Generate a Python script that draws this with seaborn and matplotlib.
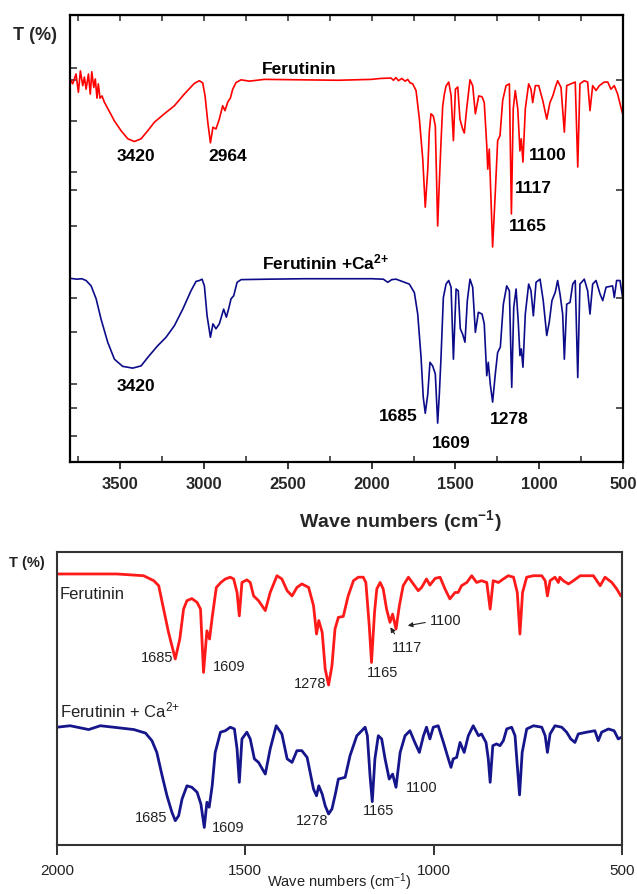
import matplotlib
matplotlib.use("Agg")
import seaborn as sns
import matplotlib.pyplot as plt

# 上段: 全領域 (3800-500 cm-1) の IR スペクトル  (波数, 透過率)
red_full = [
    (3800, 85.7), (3784, 84.6), (3764, 86.8), (3750, 82.7), (3738, 87.5), (3724, 84.2),
    (3714, 86.1), (3704, 83.4), (3690, 86.8), (3679, 82.3), (3670, 87.3), (3658, 83.8),
    (3649, 85.7), (3639, 81.4), (3631, 84.6), (3621, 81.4), (3609, 81.9), (3595, 80.5),
    (3579, 79.4), (3535, 76.3), (3495, 74.1), (3455, 72.3), (3416, 71.7), (3376, 72.3),
    (3336, 74.1), (3297, 76.0), (3237, 77.9), (3177, 79.7), (3118, 82.3), (3058, 84.7),
    (3028, 85.3), (3008, 84.8), (2994, 81.9), (2978, 76.1), (2962, 71.4), (2947, 74.9),
    (2929, 74.5), (2909, 76.7), (2889, 79.7), (2875, 78.6), (2859, 80.5), (2843, 81.4),
    (2829, 83.4), (2809, 84.9), (2779, 85.5), (2730, 85.2), (2640, 85.6), (2400, 85.5),
    (2200, 85.4), (2000, 85.6), (1950, 85.8), (1884, 85.9), (1870, 85.4), (1855, 86.0),
    (1840, 85.3), (1820, 85.8), (1800, 85.2), (1785, 85.6), (1770, 84.8), (1755, 84.6),
    (1735, 83.1), (1715, 76.7), (1695, 67.8), (1680, 57.0), (1665, 65.5), (1656, 73.8),
    (1646, 77.9), (1632, 77.4), (1620, 75.2), (1606, 52.8), (1596, 62.6), (1586, 71.6),
    (1576, 79.6), (1566, 82.3), (1556, 84.1), (1540, 85.0), (1526, 82.0), (1512, 71.9),
    (1500, 83.4), (1486, 83.9), (1473, 76.7), (1457, 74.5), (1447, 73.6), (1433, 79.0),
    (1413, 85.5), (1397, 84.2), (1381, 77.9), (1361, 81.9), (1341, 81.7), (1328, 80.4),
    (1313, 70.8), (1307, 65.5), (1298, 70.0), (1278, 48.1), (1262, 60.4), (1248, 71.9),
    (1234, 73.0), (1218, 80.9), (1198, 84.2), (1178, 84.6), (1166, 55.5), (1155, 79.0),
    (1143, 83.1), (1128, 79.0), (1115, 69.6), (1107, 72.3), (1097, 67.1), (1083, 79.0),
    (1063, 84.6), (1049, 83.4), (1039, 80.4), (1023, 84.2), (1003, 84.2), (979, 80.9),
    (955, 76.7), (936, 80.4), (919, 81.9), (904, 83.8), (890, 85.3), (870, 83.8),
    (850, 73.8), (836, 84.2), (810, 84.6), (785, 85.0), (770, 66.0), (757, 84.6),
    (731, 85.3), (711, 85.0), (697, 78.6), (681, 84.2), (661, 83.1), (641, 84.2),
    (612, 85.0), (591, 85.0), (572, 83.4), (552, 84.2), (532, 82.3), (503, 78.0),
]
blue_full = [
    (3800, 41.1), (3760, 40.9), (3730, 41.0), (3704, 40.6), (3674, 39.4), (3644, 36.5),
    (3615, 32.0), (3575, 26.8), (3535, 23.0), (3486, 21.4), (3426, 21.0), (3376, 21.5),
    (3327, 23.8), (3277, 26.0), (3227, 27.9), (3177, 30.5), (3127, 34.2), (3078, 38.3),
    (3048, 40.4), (3028, 40.6), (3012, 40.9), (2998, 39.4), (2982, 32.7), (2962, 27.9),
    (2947, 30.9), (2929, 29.8), (2909, 30.9), (2883, 34.2), (2867, 32.4), (2851, 34.6),
    (2839, 36.5), (2823, 37.2), (2803, 40.2), (2779, 40.8), (2620, 40.9), (2400, 41.0),
    (2200, 41.0), (2000, 41.0), (1930, 40.9), (1904, 40.2), (1880, 40.8), (1854, 40.9),
    (1775, 39.8), (1745, 37.9), (1725, 33.1), (1705, 23.4), (1692, 14.5), (1680, 10.9),
    (1665, 15.2), (1652, 22.3), (1636, 21.5), (1620, 19.7), (1606, 8.7), (1596, 15.2),
    (1586, 23.4), (1572, 36.8), (1556, 39.8), (1540, 40.6), (1526, 39.1), (1512, 23.0),
    (1496, 38.7), (1483, 38.3), (1471, 29.8), (1457, 28.6), (1443, 26.8), (1429, 36.1),
    (1413, 40.9), (1397, 39.1), (1381, 29.0), (1363, 33.5), (1341, 33.1), (1328, 30.9),
    (1313, 19.3), (1304, 22.3), (1292, 17.4), (1278, 13.4), (1262, 19.7), (1248, 24.5),
    (1232, 25.7), (1214, 35.3), (1194, 39.4), (1178, 38.3), (1164, 16.7), (1152, 34.6),
    (1138, 38.7), (1125, 31.3), (1115, 23.8), (1107, 25.3), (1097, 21.2), (1083, 33.1),
    (1063, 39.8), (1049, 38.3), (1035, 32.7), (1019, 40.2), (995, 40.9), (976, 36.1),
    (955, 28.3), (940, 31.3), (924, 36.1), (904, 38.0), (890, 40.6), (876, 37.6),
    (860, 33.1), (850, 23.0), (836, 35.3), (816, 35.7), (800, 39.8), (785, 40.6),
    (770, 18.9), (757, 39.8), (731, 40.9), (711, 38.3), (697, 33.1), (681, 39.8),
    (661, 40.6), (637, 37.6), (621, 36.1), (601, 39.1), (562, 39.4), (552, 36.8),
    (538, 40.6), (518, 40.6), (502, 36.8),
]

# 下段: 拡大 (2000-500 cm-1)
red_zoom = [
    (2000, 92.5), (1911, 92.5), (1841, 92.5), (1770, 91.9), (1743, 90.2), (1730, 88.5),
    (1717, 80.5), (1704, 72.6), (1686, 63.5), (1674, 70.3), (1664, 80.5), (1655, 83.4),
    (1642, 84.1), (1628, 82.8), (1619, 80.5), (1611, 58.9), (1602, 73.1), (1595, 70.3),
    (1588, 77.7), (1577, 87.9), (1565, 89.6), (1553, 90.8), (1540, 91.4), (1531, 90.8),
    (1522, 86.2), (1516, 78.2), (1509, 89.6), (1496, 90.5), (1487, 89.6), (1478, 85.0),
    (1465, 83.4), (1447, 80.0), (1434, 86.2), (1416, 91.9), (1403, 90.8), (1389, 86.8),
    (1376, 85.0), (1363, 87.9), (1350, 89.1), (1332, 87.9), (1319, 81.7), (1311, 72.0),
    (1305, 76.6), (1296, 72.6), (1288, 60.1), (1279, 54.6), (1270, 61.2), (1262, 73.7),
    (1253, 77.7), (1240, 78.0), (1227, 85.0), (1213, 90.2), (1200, 91.4), (1187, 91.4),
    (1180, 89.6), (1171, 74.8), (1165, 62.3), (1157, 79.4), (1151, 87.4), (1142, 89.6),
    (1134, 87.4), (1125, 80.5), (1116, 76.0), (1109, 78.8), (1100, 73.7), (1091, 81.7),
    (1081, 88.5), (1067, 91.4), (1054, 89.1), (1041, 86.8), (1032, 87.9), (1019, 90.8),
    (1010, 88.7), (996, 91.0), (983, 91.4), (970, 87.4), (957, 84.0), (943, 86.2),
    (935, 86.2), (926, 88.5), (912, 89.6), (899, 91.9), (886, 89.6), (873, 90.2),
    (859, 89.6), (850, 80.5), (842, 90.2), (828, 89.6), (815, 90.8), (802, 91.9),
    (788, 91.4), (778, 86.2), (771, 72.0), (764, 86.2), (753, 91.4), (735, 91.9),
    (713, 91.9), (704, 90.2), (698, 85.0), (691, 90.2), (678, 91.4), (669, 89.6),
    (665, 91.4), (656, 90.2), (642, 89.1), (629, 90.2), (611, 91.9), (594, 91.9),
    (576, 91.9), (567, 90.2), (558, 88.5), (545, 91.4), (527, 89.6), (514, 87.4),
    (503, 85.0),
]
blue_zoom = [
    (2000, 40.2), (1965, 40.7), (1916, 39.4), (1885, 40.7), (1850, 40.2), (1796, 39.4),
    (1765, 38.2), (1748, 35.6), (1735, 31.6), (1721, 23.7), (1708, 16.8), (1695, 11.2),
    (1686, 8.3), (1677, 10.0), (1668, 15.7), (1655, 20.2), (1642, 19.7), (1628, 18.0),
    (1618, 14.0), (1609, 6.0), (1602, 14.6), (1596, 12.9), (1588, 20.2), (1580, 31.6),
    (1566, 38.5), (1553, 39.0), (1540, 40.2), (1529, 39.6), (1522, 32.8), (1516, 21.4),
    (1509, 36.2), (1496, 38.5), (1487, 36.2), (1476, 29.4), (1465, 28.2), (1447, 24.2),
    (1434, 32.8), (1418, 40.7), (1403, 37.9), (1389, 29.4), (1376, 28.2), (1363, 32.2),
    (1350, 32.2), (1336, 29.9), (1319, 19.1), (1311, 16.8), (1305, 20.2), (1296, 17.4),
    (1288, 13.4), (1279, 10.6), (1270, 12.3), (1261, 17.4), (1253, 22.5), (1235, 23.1),
    (1222, 30.5), (1204, 37.3), (1191, 39.0), (1182, 40.2), (1176, 37.3), (1169, 23.7),
    (1163, 14.8), (1156, 29.4), (1147, 37.3), (1138, 36.2), (1129, 29.4), (1118, 22.5),
    (1109, 24.2), (1100, 19.7), (1089, 31.6), (1076, 37.3), (1063, 39.0), (1050, 35.0),
    (1038, 31.6), (1027, 37.3), (1019, 40.2), (1010, 36.2), (1001, 40.2), (988, 40.7),
    (974, 35.0), (961, 29.4), (954, 26.5), (948, 29.4), (939, 29.9), (930, 35.0),
    (919, 31.6), (908, 37.3), (895, 40.7), (881, 37.3), (873, 37.9), (861, 35.0),
    (855, 29.4), (850, 21.4), (843, 33.9), (833, 34.5), (824, 33.9), (815, 35.6),
    (806, 39.6), (793, 40.2), (784, 37.3), (778, 27.1), (772, 17.1), (765, 31.6),
    (753, 39.6), (735, 40.7), (713, 40.2), (704, 37.3), (698, 31.6), (691, 37.9),
    (678, 40.7), (660, 40.2), (647, 38.5), (636, 36.2), (625, 35.0), (616, 37.9),
    (594, 38.5), (572, 39.0), (563, 35.6), (554, 38.5), (536, 39.6), (521, 39.0),
    (510, 36.2), (501, 36.8),
]

full_ticks = [3500, 3000, 2500, 2000, 1500, 1000, 500]
zoom_ticks = [2000, 1500, 1000, 500]

sns.set_style("ticks")
plt.rcParams["font.family"] = ["Liberation Sans", "DejaVu Sans"]
plt.rcParams["mathtext.default"] = "regular"

RED = "#ff0000"
BLUE = "#0c0c8a"

fig = plt.figure(figsize=(6.37, 8.95), dpi=100)
ax1 = fig.add_axes([70 / 637, 1 - 463 / 895, 553 / 637, 447 / 895])
ax2 = fig.add_axes([57 / 637, 1 - 846 / 895, 565 / 637, 293 / 895])


def draw(ax, pts, color, lw):
    xs = [p[0] for p in pts]
    ys = [p[1] for p in pts]
    sns.lineplot(x=xs, y=ys, ax=ax, color=color, linewidth=lw,
                 estimator=None, sort=False)


# --- 上段 ---
draw(ax1, red_full, RED, 1.2)
draw(ax1, blue_full, BLUE, 1.2)
ax1.set_xlim(3800, 500)
ax1.set_ylim(0, 100)
ax1.set_xticks(full_ticks)
ax1.set_xticks([3750, 3250, 2750, 2250, 1750, 1250, 750], minor=True)
ax1.tick_params(axis="x", which="major", direction="out", length=5, width=1.3,
                labelsize=12, pad=5, top=False)
ax1.tick_params(axis="x", which="minor", direction="in", length=4, width=1.1, top=False)
ax1.set_yticks([85.5, 60.9, 36.7, 12.1])
ax1.set_yticks([88.1, 76.3, 64.9, 52.8, 29.1, 17.4, 5.8], minor=True)
ax1.tick_params(axis="y", which="both", direction="in", length=5, width=1.1,
                left=True, right=True, labelleft=False)
ax1.tick_params(axis="y", which="minor", right=False)
for lbl in ax1.get_xticklabels():
    lbl.set_fontweight("bold")
for s in ax1.spines.values():
    s.set_linewidth(1.6)
    s.set_color("black")
sec = ax1.secondary_xaxis("top")
sec.set_xticks(list(range(3750, 500, -250)))
sec.tick_params(direction="in", length=4, width=1.1, labeltop=False)
ax1.set_xlabel("")
ax1.set_ylabel("")

bold = dict(fontweight="bold", fontsize=12.5, color="black")
ax1.text(2654, 87.0, "Ferutinin", ha="left", va="baseline", **bold)
ax1.text(2654, 43.2, "Ferutinin +Ca$^{2{+}}$", ha="left", va="baseline", **bold)
for s, x, y in [("3420", 3406, 68.5), ("2964", 2857, 68.5), ("1100", 948, 68.7),
                ("1117", 1037, 61.3), ("1165", 1067, 53.0), ("3420", 3406, 17.2),
                ("1685", 1843, 10.5), ("1609", 1526, 4.3), ("1278", 1180, 9.8)]:
    ax1.text(x, y, s, ha="center", va="center", **bold)

fig.text(35 / 637, 1 - 35 / 895, "T (%)", ha="center", va="center",
         fontsize=13, fontweight="bold")
fig.text(400 / 637, 1 - 521 / 895, "Wave numbers (cm$^{-1}$)", ha="center", va="center",
         fontsize=14, fontweight="bold")

# --- 下段 ---
draw(ax2, red_zoom, "#ff1a1a", 2.0)
draw(ax2, blue_zoom, "#16168c", 2.0)
ax2.set_xlim(2000, 500)
ax2.set_ylim(0, 100)
ax2.set_xticks(zoom_ticks)
ax2.set_yticks([])
ax2.tick_params(axis="x", direction="out", length=7, width=1.3, labelsize=11,
                pad=6, colors="#222222")
for s in ax2.spines.values():
    s.set_linewidth(1.5)
    s.set_color("#333333")
ax2.set_xlabel("")
ax2.set_ylabel("")

reg = dict(fontsize=10.5, color="#222222")
ax2.text(1992, 86.0, "Ferutinin", ha="left", va="center", fontsize=12, color="#222222")
ax2.text(1992, 44.0, "Ferutinin + Ca$^{2{+}}$", ha="left", va="baseline", fontsize=12,
         color="#222222")
for s, x, y in [("1685", 1734, 64.2), ("1609", 1543, 61.1), ("1278", 1328, 55.3),
                ("1165", 1137, 59.0), ("1117", 1071, 67.6), ("1100", 967, 76.8),
                ("1685", 1750, 9.6), ("1609", 1546, 6.1), ("1278", 1323, 8.5),
                ("1165", 1145, 11.9), ("1100", 1031, 19.8)]:
    ax2.text(x, y, s, ha="center", va="center", **reg)

arrow = dict(arrowstyle="-|>", color="#222222", lw=0.8, mutation_scale=7)
ax2.annotate("", xy=(1076, 74.7), xytext=(1015, 76.1), arrowprops=arrow)
ax2.annotate("", xy=(1119, 75.1), xytext=(1100, 71.3), arrowprops=arrow)

fig.text(27 / 637, 1 - 563 / 895, "T (%)", ha="center", va="center", fontsize=10.5,
         fontweight="semibold", color="#222222")
fig.text(339 / 637, 2 / 895, "Wave numbers (cm$^{-1}$)", ha="center", va="bottom",
         fontsize=10.5, color="#222222")

fig.savefig("out.png", dpi=100)
